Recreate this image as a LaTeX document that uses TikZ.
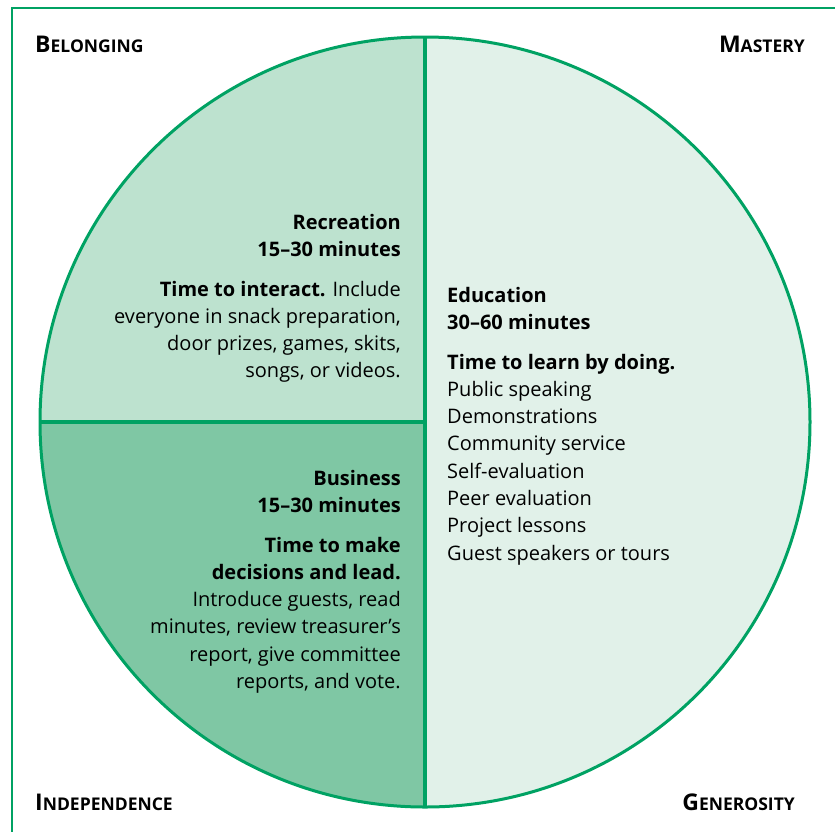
\documentclass[tikz,border=0pt]{standalone}
\usepackage{fontspec}
\setmainfont{Open Sans}
\definecolor{mygreen}{HTML}{00A263}
\definecolor{tlfill}{HTML}{BDE2CF}
\definecolor{blfill}{HTML}{7FC7A4}
\definecolor{rfill}{HTML}{E1F1E9}
\newcommand{\sch}[2]{{\bfseries\fontsize{23}{24}\selectfont #1\fontsize{17.5}{18}\selectfont #2}}
\begin{document}
\begin{tikzpicture}[x=1pt,y=-1pt,
  corner/.style={inner sep=0pt, font=\bfseries},
  body/.style={inner sep=0pt, font=\fontsize{20}{27.3}\selectfont},
  divider/.style={draw=mygreen, line width=4pt}]
\useasboundingbox (0,0) rectangle (835,831);
% border
\coordinate (bl) at (12,840);
\coordinate (tl) at (12,8);
\coordinate (tr) at (840,8);
\draw[draw=mygreen, line width=2.5pt] (bl) -- (tl) -- (tr);
% circle
\node[circle, minimum size=770pt, inner sep=0pt] (wheel) at (425,422) {};
\begin{scope}
  \clip (wheel.center) circle (385pt);
  \fill[rfill] (425,0) rectangle (835,831);
  \fill[tlfill] (0,0) rectangle (425,423);
  \fill[blfill] (0,423) rectangle (425,831);
\end{scope}
\draw[divider] (wheel.north) -- (wheel.south);
\draw[divider] (wheel.west) -- (wheel.center);
\draw[draw=mygreen, line width=3pt] (wheel.center) circle (385pt);
% corner labels
\node[corner, anchor=base west] (belong) at (35,52) {\sch{B}{ELONGING}};
\node[corner, anchor=base east] (mastery) at (805,52) {\sch{M}{ASTERY}};
\node[corner, anchor=base west] (indep) at (35,810) {\sch{I}{NDEPENDENCE}};
\node[corner, anchor=base east] (gener) at (795,810) {\sch{G}{ENEROSITY}};
% text blocks
\node[body, align=right, anchor=north east] (recreation) at (401,214) {%
\textbf{Recreation}\\\textbf{15–30 minutes}\\[12pt]
\textbf{Time to interact.} Include\\everyone in snack preparation,\\door prizes, games, skits,\\songs, or videos.};
\node[body, align=left, anchor=north west] (education) at (447,287) {%
\textbf{Education}\\\textbf{30–60 minutes}\\[12pt]
\textbf{Time to learn by doing.}\\Public speaking\\Demonstrations\\Community service\\Self-evaluation\\Peer evaluation\\Project lessons\\Guest speakers or tours};
\node[body, align=right, anchor=north east] (business) at (401,470) {%
\textbf{Business}\\\textbf{15–30 minutes}\\[12pt]
\textbf{Time to make}\\\textbf{decisions and lead.}\\Introduce guests, read\\minutes, review treasurer’s\\report, give committee\\reports, and vote.};
\end{tikzpicture}
\end{document}
